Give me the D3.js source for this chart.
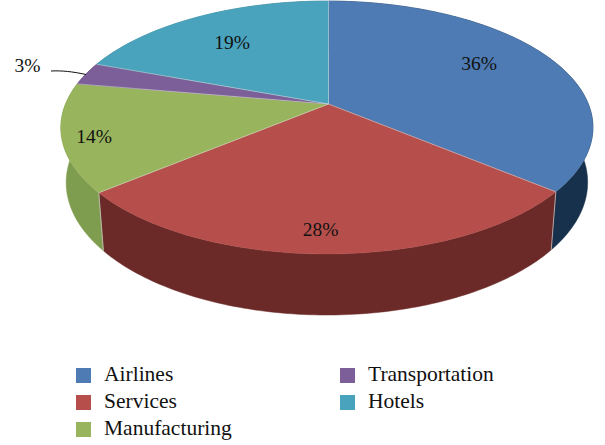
<!DOCTYPE html>
<html>
<head>
<meta charset="utf-8">
<script src="https://cdn.jsdelivr.net/npm/d3@7"></script>
<style>
  html, body { margin: 0; padding: 0; background: #fff; }
  text { font-family: "Liberation Serif", serif; fill: #111; }
</style>
</head>
<body>
<svg id="chart" width="605" height="445"></svg>
<script>
// values
const categories = ['Airlines', 'Services', 'Manufacturing', 'Transportation', 'Hotels'];
const shares = [36, 28, 13.7, 2.9, 19.4];
const topColors = ['#4e7bb3', '#b64f4c', '#98b45c', '#7c5f98', '#4aa3bc'];
const wallColors = ['#17304b', '#6b2a28', '#7f9d4e', '#5c4672', '#35798c'];

const svg = d3.select('#chart');

// tilted disc: homography of the unit circle, apex at (328.5,104)
const apex = [328.5, 104];
const tilt = 0.186, lean = 0.006, spanX = 261.4, spanY = 122.1;
// bottom rim is a bit narrower and rounder than the top one
const rimScaleX = 0.98, rimScaleY = 1.048, rimDrop = 53.8;

function project(angle, r = 1) {
  const u = r * Math.sin(angle), v = -r * Math.cos(angle);
  const w = 1 - tilt * v + lean * u;
  return [apex[0] + spanX * u / w, apex[1] + spanY * v / w];
}
function projectBottom(angle) {
  const p = project(angle);
  return [apex[0] + (p[0] - apex[0]) * rimScaleX,
          apex[1] + (p[1] - apex[1]) * rimScaleY + rimDrop];
}

const color = d3.scaleOrdinal(categories, topColors);
const wallColor = d3.scaleOrdinal(categories, wallColors);
const pct = d3.format('.0f');

const slices = d3.pie().sort(null).value(d => d.share).startAngle(0)(
  categories.map((name, i) => ({ name, share: shares[i] }))
);

const line = d3.line();
const step = Math.PI / 180;
const arcAngles = s => d3.range(s.startAngle, s.endAngle, step).concat(s.endAngle);

// walls first, the top faces cover whatever is behind
svg.append('g').selectAll('path').data(slices).join('path')
  .attr('fill', d => wallColor(d.data.name))
  .attr('stroke', d => wallColor(d.data.name))
  .attr('stroke-width', 0.5)
  .attr('d', d => {
    const a = arcAngles(d);
    return line(a.map(t => project(t)).concat(a.slice().reverse().map(projectBottom))) + 'Z';
  });

// light seams on the wall where the slices meet at the front
svg.append('g').selectAll('line').data(slices.slice(0, 2)).join('line')
  .attr('x1', d => project(d.endAngle)[0]).attr('y1', d => project(d.endAngle)[1])
  .attr('x2', d => projectBottom(d.endAngle)[0]).attr('y2', d => projectBottom(d.endAngle)[1])
  .attr('stroke', '#c9c3c0').attr('stroke-width', 0.8);

svg.append('g').selectAll('path').data(slices).join('path')
  .attr('fill', d => color(d.data.name))
  .attr('stroke', d => color(d.data.name))
  .attr('stroke-width', 0.4)
  .attr('d', d => line([apex].concat(arcAngles(d).map(t => project(t)))) + 'Z');

// radial seams
svg.append('g').selectAll('line').data(slices).join('line')
  .attr('x1', apex[0]).attr('y1', apex[1])
  .attr('x2', d => project(d.endAngle)[0]).attr('y2', d => project(d.endAngle)[1])
  .attr('stroke', '#e4e4e4').attr('stroke-width', 0.6).attr('stroke-opacity', 0.8);

// percent labels
const labelSpots = [[479, 70], [320.5, 236], [94, 142.5], [27.5, 72], [232, 48.5]];
svg.append('g').selectAll('text').data(slices).join('text')
  .attr('x', (d, i) => labelSpots[i][0])
  .attr('y', (d, i) => labelSpots[i][1])
  .attr('text-anchor', 'middle')
  .attr('font-size', 19.5)
  .text(d => pct(d.data.share) + '%');

// leader for the small slice
svg.append('path')
  .attr('d', 'M51,71 C62,70.5 72,71.5 86,74.5')
  .attr('fill', 'none').attr('stroke', '#111').attr('stroke-width', 1);

// legend, filled column by column
const legendCols = [76, 340], legendRows = [368, 395, 422];
const legend = svg.append('g').selectAll('g').data(categories).join('g')
  .attr('transform', (d, i) => `translate(${legendCols[i < 3 ? 0 : 1]},${legendRows[i < 3 ? i : i - 3]})`);
legend.append('rect').attr('width', 15).attr('height', 15).attr('fill', d => color(d));
legend.append('text').attr('x', 28).attr('y', 13).attr('font-size', 21.5).text(d => d);
</script>
</body>
</html>
